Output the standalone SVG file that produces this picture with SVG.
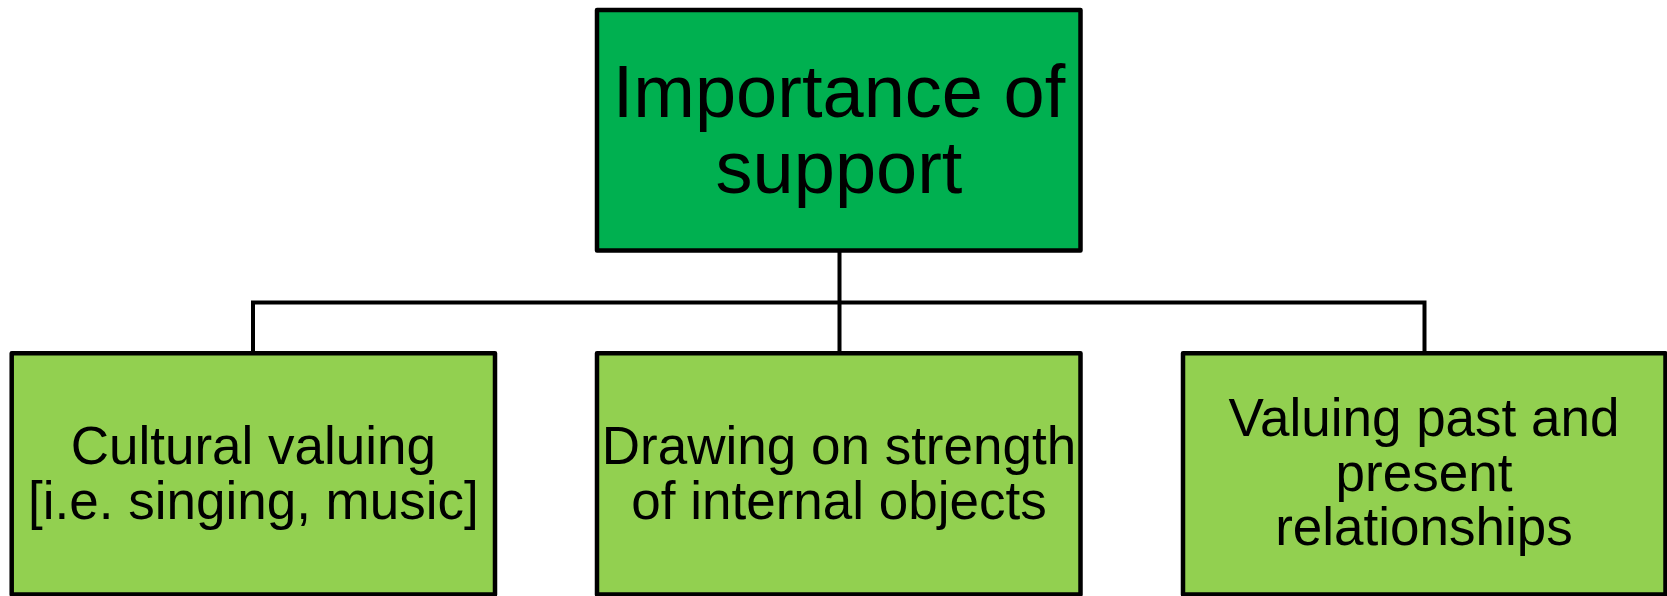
<svg xmlns="http://www.w3.org/2000/svg" width="1667" height="596" viewBox="0 0 1667 596">
<style>
.box{stroke:#000;stroke-width:4.5;stroke-linejoin:round}
.top{fill:#00B050}
.sub{fill:#92D050}
.conn{fill:none;stroke:#000;stroke-width:4}
text{font-family:"Liberation Sans",Arial,sans-serif;fill:#000;text-anchor:middle}
.t1{font-size:74px}
.t2{font-size:53px}
</style>
<rect width="1667" height="596" fill="#fff"/>
<g id="connectors">
<path class="conn" d="M839.5 252 V302.5 M253 354 V302.5 H1424.5 V354 M839.5 302.5 V354"/>
</g>
<g id="root">
<rect class="box top" x="597" y="10" width="483.5" height="240.5"/>
<text class="t1" x="839" y="117">Importance of</text>
<text class="t1" x="839" y="193">support</text>
</g>
<g id="cultural">
<rect class="box sub" x="11.7" y="353.3" width="483.3" height="241.2"/>
<text class="t2" x="253.4" y="464">Cultural valuing</text>
<text class="t2" x="253.4" y="519">[i.e. singing, music]</text>
</g>
<g id="drawing">
<rect class="box sub" x="597" y="353.3" width="483.5" height="241.2"/>
<text class="t2" x="839" y="464">Drawing on strength</text>
<text class="t2" x="839" y="519">of internal objects</text>
</g>
<g id="valuing">
<rect class="box sub" x="1183" y="353.3" width="482.5" height="241.2"/>
<text class="t2" x="1424" y="436">Valuing past and</text>
<text class="t2" x="1424" y="490.5">present</text>
<text class="t2" x="1424" y="545">relationships</text>
</g>
</svg>
